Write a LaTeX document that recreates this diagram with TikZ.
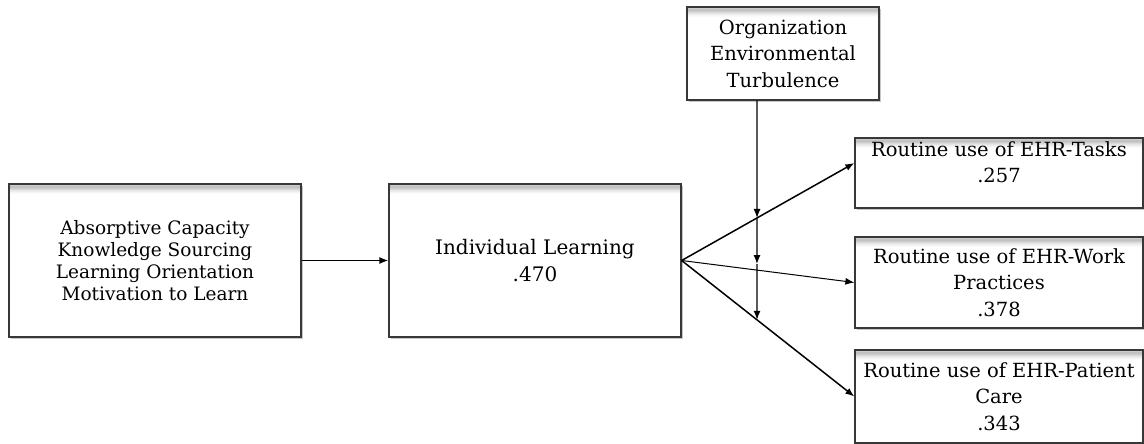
\documentclass[tikz,border=0pt]{standalone}
\usepackage{fontspec}
\setmainfont{DejaVu Serif}
\usetikzlibrary{arrows.meta,shadows}

\begin{document}
\begin{tikzpicture}[x=1pt,y=-1pt,
  box/.style={draw=black!78, line width=1.3pt, fill=white, rectangle, inner sep=0pt,
    align=center, text=black, font=\fontsize{19.5}{26.5}\selectfont,
    drop shadow={shadow xshift=1.6pt, shadow yshift=-1.8pt, opacity=0.22, fill=black},
    path picture={%
      \foreach \k/\o in {1/0.12,2/0.2,3/0.24,4/0.24,5/0.2,6/0.15,7/0.1,8/0.07,9/0.04,10/0.02}{
        \fill[black, opacity=\o]
          ([yshift=-\k pt+1pt]path picture bounding box.north west) rectangle
          ([yshift=-\k pt]path picture bounding box.north east);
      }}},
  txt/.style={inner sep=0pt, align=center, text=black, font=\fontsize{19.5}{26.5}\selectfont},
  link/.style={draw=black, line width=1.5pt, -{Latex[length=9pt,width=7pt]}},
  thinlink/.style={link, line width=1pt},
  modlink/.style={link, line width=1.4pt},
]
\path[use as bounding box] (0,0) rectangle (1144,444);

% antecedents and mediator
\node[box, minimum width=292pt, minimum height=153pt,
      font=\fontsize{18.5}{21.8}\selectfont] (src) at (155,260.5)
  {Absorptive Capacity\\Knowledge Sourcing\\Learning Orientation\\Motivation to Learn};
\node[box, minimum width=292pt, minimum height=153pt, font=\fontsize{20}{26.5}\selectfont] (il) at (535,260.5)
  {Individual Learning\\.470};

% moderator
\node[box, minimum width=192pt, minimum height=93pt] (org) at (783,53.5)
  {Organization\\Environmental\\Turbulence};

% outcomes
\node[box, minimum width=288pt, minimum height=70pt] (tasks) at (999,173) {};
\node[txt, anchor=north] (taskst) at ([yshift=-4pt]tasks.north)
  {Routine use of EHR-Tasks\\.257};
\node[box, minimum width=288pt, minimum height=91pt] (work) at (999,282.5)
  {Routine use of EHR-Work\\Practices\\.378};
\node[box, minimum width=288pt, minimum height=93pt] (care) at (999,396.5)
  {Routine use of EHR-Patient\\Care\\.343};

% connectors
\draw[link] (src.east) -- (il.west);
\coordinate (e1) at ([yshift=10pt]tasks.west);
\coordinate (e2) at (work.west);
\coordinate (e3) at (care.west);
\draw[link] (il.east) -- (e1);
\draw[thinlink] (il.east) -- (e2);
\draw[link] (il.east) -- (e3);

% moderating line with its three arrowheads
\coordinate (vtop) at ([xshift=-26pt]org.south);
\coordinate (vbot) at ([yshift=-320pt]vtop);
\coordinate (m1) at (intersection of il.east--e1 and vtop--vbot);
\coordinate (m2) at (intersection of il.east--e2 and vtop--vbot);
\coordinate (m3) at (intersection of il.east--e3 and vtop--vbot);
\draw[modlink] (vtop) -- (m1);
\draw[modlink] (m1) -- ([yshift=6pt]m2);
\draw[modlink] ([yshift=6pt]m2) -- (m3);
\end{tikzpicture}
\end{document}
